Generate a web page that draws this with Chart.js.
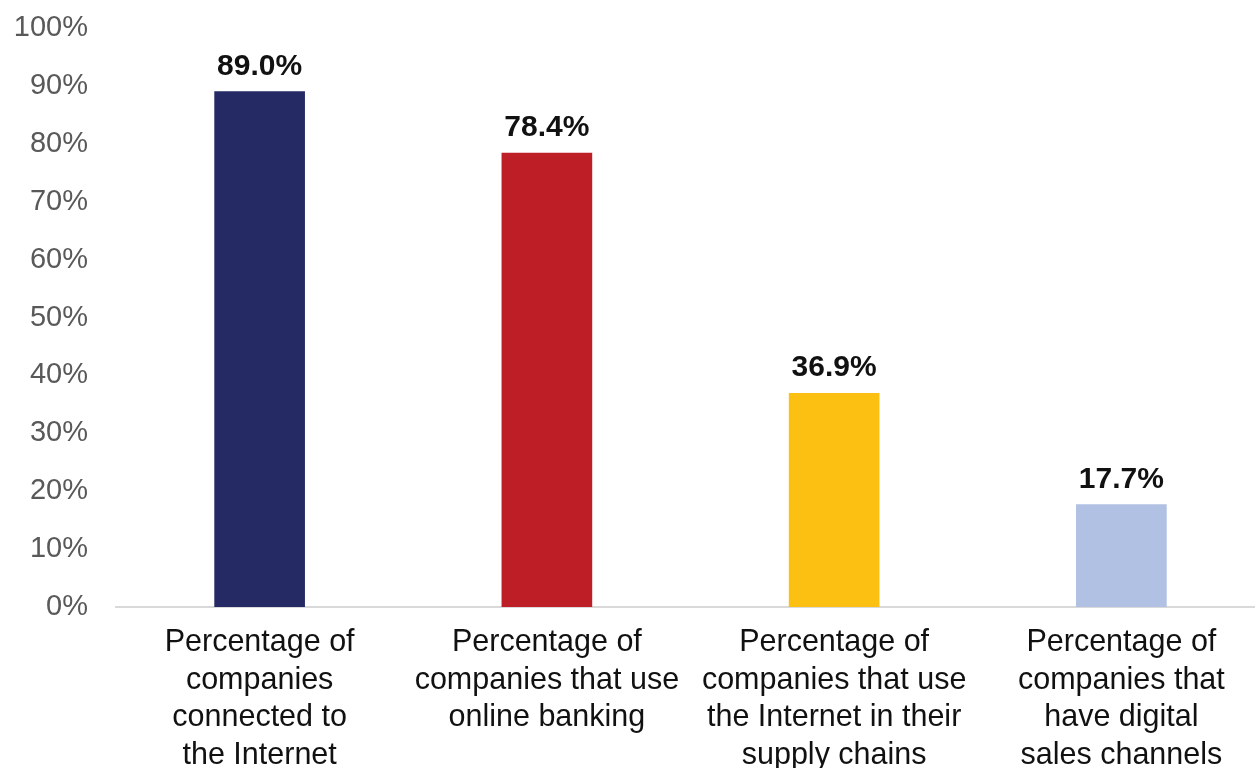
<!DOCTYPE html>
<html>
<head>
<meta charset="utf-8">
<script src="https://cdn.jsdelivr.net/npm/chart.js@4/dist/chart.umd.min.js"></script>
<style>
  html, body { margin: 0; padding: 0; background: #ffffff; overflow: hidden; }
  #wrap { position: relative; width: 1265px; height: 768px; }
</style>
</head>
<body>
<div id="wrap"><canvas id="chart"></canvas></div>
<script>
// Category labels, one array entry per line
const categories = [
  ["Percentage of", "companies", "connected to", "the Internet"],
  ["Percentage of", "companies that use", "online banking"],
  ["Percentage of", "companies that use", "the Internet in their", "supply chains"],
  ["Percentage of", "companies that", "have digital", "sales channels"]
];
// Share of companies, in percent
const values = [89.0, 78.4, 36.9, 17.7];
const barColors = ["#252a64", "#be1e25", "#fcc013", "#b1c1e3"];
const yTicks = [0, 10, 20, 30, 40, 50, 60, 70, 80, 90, 100];

const FONT = "'Liberation Sans', Arial, sans-serif";

// Bold value labels above each bar
const valueLabels = {
  id: "valueLabels",
  afterDatasetsDraw(chart) {
    const ctx = chart.ctx;
    const meta = chart.getDatasetMeta(0);
    ctx.save();
    ctx.font = "bold 30px " + FONT;
    ctx.fillStyle = "#111111";
    ctx.textAlign = "center";
    ctx.textBaseline = "alphabetic";
    meta.data.forEach((bar, i) => {
      ctx.fillText(values[i].toFixed(1) + "%", bar.x, bar.y - 17);
    });
    ctx.restore();
  }
};

new Chart(document.getElementById("chart"), {
  type: "bar",
  data: {
    labels: categories,
    datasets: [{
      data: values,
      backgroundColor: barColors,
      borderWidth: 0,
      barThickness: 90
    }]
  },
  options: {
    responsive: true,
    maintainAspectRatio: false,
    animation: false,
    layout: { padding: { top: 28, left: 0, right: 0, bottom: 0 } },
    plugins: {
      legend: { display: false },
      tooltip: { enabled: false }
    },
    scales: {
      x: {
        grid: { display: false, drawTicks: false },
        border: { display: true, color: "#d9d9d9", width: 2 },
        ticks: {
          color: "#111111",
          font: { family: FONT, size: 30.5, lineHeight: 1.23 },
          padding: 17,
          maxRotation: 0,
          autoSkip: false
        },
        afterFit(scale) {
          scale.height = 161;
          scale.paddingLeft = 0;
          scale.paddingRight = 0;
        }
      },
      y: {
        min: 0,
        max: 100,
        afterBuildTicks(scale) { scale.ticks = yTicks.map(v => ({ value: v })); },
        grid: { display: false, drawTicks: false },
        border: { display: false },
        ticks: {
          color: "#595959",
          font: { family: FONT, size: 29 },
          padding: 28,
          callback: v => v + "%"
        },
        afterFit(scale) {
          scale.width = 116;
          scale.paddingTop = 0;
          scale.paddingBottom = 0;
        }
      }
    }
  },
  plugins: [valueLabels]
});
</script>
</body>
</html>
